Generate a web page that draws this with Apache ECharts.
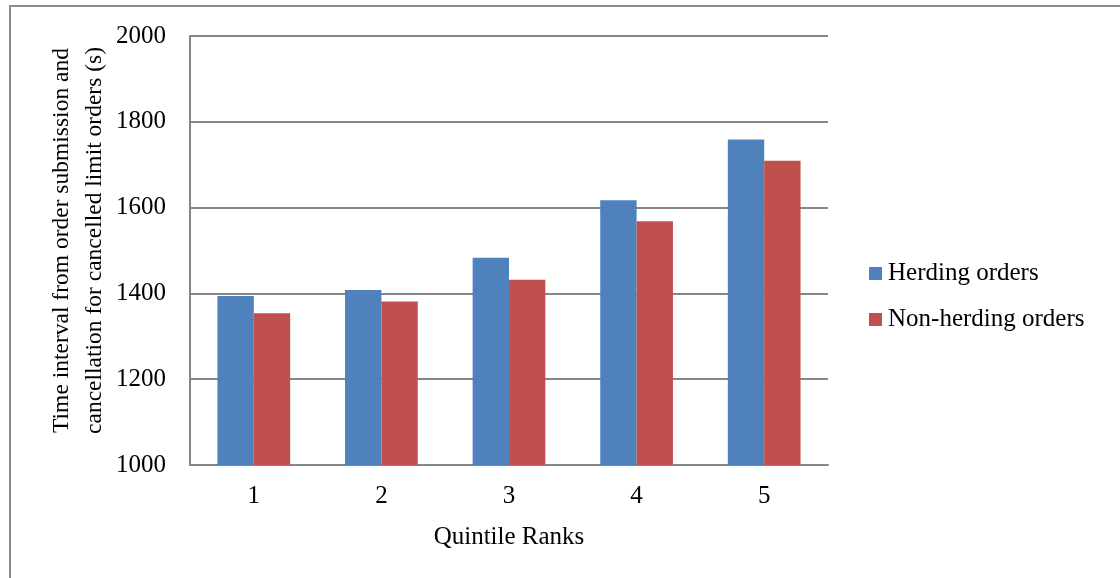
<!DOCTYPE html>
<html>
<head>
<meta charset="utf-8">
<script src="https://cdn.jsdelivr.net/npm/echarts@6/dist/echarts.min.js"></script>
<style>
  html, body { margin: 0; padding: 0; background: #ffffff; }
  #chart { width: 1120px; height: 578px; }
</style>
</head>
<body>
<div id="chart"></div>
<script>
// Quintile ranks on the x axis
const categories = ['1', '2', '3', '4', '5'];
// Mean time from submission to cancellation (seconds)
const herdingOrders = [1394, 1408, 1483, 1617, 1759];
const nonHerdingOrders = [1354, 1381, 1432, 1568, 1709];
const seriesNames = ['Herding orders', 'Non-herding orders'];
const yAxisTitle = 'Time interval from order submission and\ncancellation for cancelled limit orders (s)';
const xAxisTitle = 'Quintile Ranks';

const serif = '"Liberation Serif", "Times New Roman", serif';
const gray = '#868686';
const fs = 25;

const chart = echarts.init(document.getElementById('chart'), null, { renderer: 'canvas' });

chart.setOption({
  backgroundColor: '#ffffff',
  animation: false,
  textStyle: { fontFamily: serif, color: '#000' },
  graphic: [{
    type: 'rect',
    shape: { x: 10, y: 6, width: 1130, height: 600 },
    style: { fill: 'none', stroke: '#8c8c8c', lineWidth: 2 },
    silent: true
  }],
  grid: { left: 190, top: 36, right: 292, bottom: 113, containLabel: false },
  legend: {
    orient: 'vertical',
    left: 864,
    top: 256,
    itemWidth: 13,
    itemHeight: 13,
    itemGap: 21,
    icon: 'rect',
    textStyle: { fontFamily: serif, fontSize: fs, color: '#000', padding: [0, 0, 0, 1] },
    data: seriesNames
  },
  xAxis: {
    type: 'category',
    data: categories,
    name: xAxisTitle,
    nameLocation: 'middle',
    nameGap: 60,
    nameTextStyle: { fontFamily: serif, fontSize: fs, color: '#000' },
    axisLine: { lineStyle: { color: gray, width: 2 } },
    axisTick: { show: false },
    axisLabel: { fontFamily: serif, fontSize: fs, color: '#000', margin: 19 }
  },
  yAxis: {
    type: 'value',
    min: 1000,
    max: 2000,
    interval: 200,
    name: yAxisTitle,
    nameLocation: 'middle',
    nameGap: 79,
    nameMoveOverlap: false,
    nameRotate: 90,
    nameTextStyle: {
      fontFamily: serif, fontSize: 23.5, color: '#000', lineHeight: 33,
      padding: [0, 0, 0, 20]
    },
    axisLine: { show: true, lineStyle: { color: gray, width: 2 } },
    axisTick: { show: false },
    splitLine: { lineStyle: { color: gray, width: 2 } },
    axisLabel: {
      fontFamily: serif, fontSize: fs, color: '#000', margin: 24,
      formatter: (v) => String(v)
    }
  },
  series: [
    {
      name: seriesNames[0],
      type: 'bar',
      data: herdingOrders,
      barGap: '0%',
      barCategoryGap: '43%',
      itemStyle: { color: '#4F81BD' }
    },
    {
      name: seriesNames[1],
      type: 'bar',
      data: nonHerdingOrders,
      barGap: '0%',
      barCategoryGap: '43%',
      itemStyle: { color: '#C0504D' }
    }
  ]
});
</script>
</body>
</html>
